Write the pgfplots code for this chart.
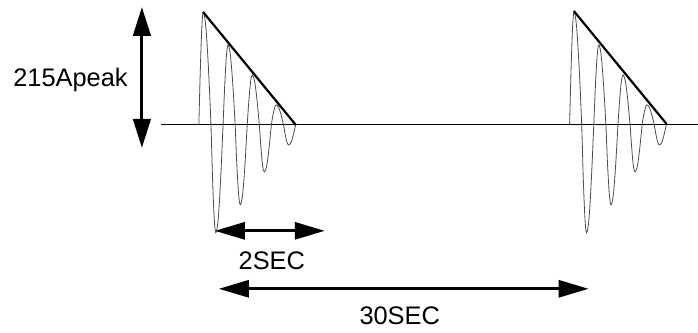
\documentclass[border=0pt]{standalone}
\usepackage{pgfplots}
\pgfplotsset{compat=1.18}
\usepackage{fontspec}
\setmainfont{Liberation Sans}
\usetikzlibrary{arrows.meta}
\begin{document}
\begin{tikzpicture}
\begin{axis}[
  width=698bp, height=333bp, scale only axis,
  xmin=0, xmax=698, ymin=-208, ymax=125,
  hide axis, clip=false,
]
\path (axis cs:0,-208) rectangle (axis cs:698,125);
% baseline
\addplot[black, line width=1bp] coordinates {(161,0) (698,0)};
% burst 1
\addplot[black!70, line width=0.8bp, smooth, tension=0.55] coordinates {
(199,0) (200.5,56.5) (202,98) (203.5,113) (206,98) (208.6,56.5) (211.1,0)
(212.7,-54) (214.4,-94) (216,-108) (218.4,-94) (220.8,-54) (223.2,0)
(224.9,40) (226.6,69.6) (228.3,80) (230.6,69.6) (233,40) (235.3,0)
(237,-40) (238.8,-69.6) (240.5,-80) (242.8,-69.6) (245.1,-40) (247.4,0)
(249.1,25) (250.8,43.5) (252.5,50) (254.8,43.5) (257.2,25) (259.5,0)
(261.2,-23.5) (262.8,-40.9) (264.5,-47) (266.9,-40.9) (269.2,-23.5) (271.6,0)
(273.2,10) (274.9,17.4) (276.5,20) (278.9,17.4) (281.3,10) (283.7,0)
(285.5,-10) (287.2,-17.4) (289,-20) (291.3,-17.4) (293.5,-10) (295.8,0)
};
% burst 2
\addplot[black!70, line width=0.8bp, smooth, tension=0.55] coordinates {
(570,0) (571.5,56.5) (573,98) (574.5,113) (577,98) (579.6,56.5) (582.1,0)
(583.7,-54) (585.4,-94) (587,-108) (589.4,-94) (591.8,-54) (594.2,0)
(595.9,40) (597.6,69.6) (599.3,80) (601.6,69.6) (604,40) (606.3,0)
(608,-40) (609.8,-69.6) (611.5,-80) (613.8,-69.6) (616.1,-40) (618.4,0)
(620.1,25) (621.8,43.5) (623.5,50) (625.8,43.5) (628.2,25) (630.5,0)
(632.2,-23.5) (633.8,-40.9) (635.5,-47) (637.9,-40.9) (640.2,-23.5) (642.6,0)
(644.2,10) (645.9,17.4) (647.5,20) (649.9,17.4) (652.3,10) (654.7,0)
(656.5,-10) (658.2,-17.4) (660,-20) (662.3,-17.4) (664.5,-10) (666.8,0)
};
% envelopes
\addplot[black, line width=2.2bp] coordinates {(203.2,113) (296,0)};
\addplot[black, line width=2.2bp] coordinates {(574.2,114) (667,1)};
% vertical arrow
\addplot[black, line width=3bp, {Triangle[length=29bp,width=17.5bp]}-{Triangle[length=29bp,width=17.5bp]}] coordinates {(142,118) (142,-23)};
% 2 sec arrow
\addplot[black, line width=3bp, {Triangle[length=30bp,width=17bp]}-{Triangle[length=30bp,width=17bp]}] coordinates {(215,-106) (325,-106)};
% 30 sec arrow
\addplot[black, line width=3bp, {Triangle[length=30bp,width=17bp]}-{Triangle[length=30bp,width=17bp]}] coordinates {(219,-164) (589,-164)};
% labels
\node[anchor=base, inner sep=0pt, font=\fontsize{25.5}{30}\selectfont] at (axis cs:70.5,38) {215Apeak};
\node[anchor=base, inner sep=0pt, font=\fontsize{25.5}{30}\selectfont] at (axis cs:272,-145) {2SEC};
\node[anchor=base, inner sep=0pt, font=\fontsize{25.5}{30}\selectfont] at (axis cs:400,-200) {30SEC};
\end{axis}
\end{tikzpicture}
\end{document}
